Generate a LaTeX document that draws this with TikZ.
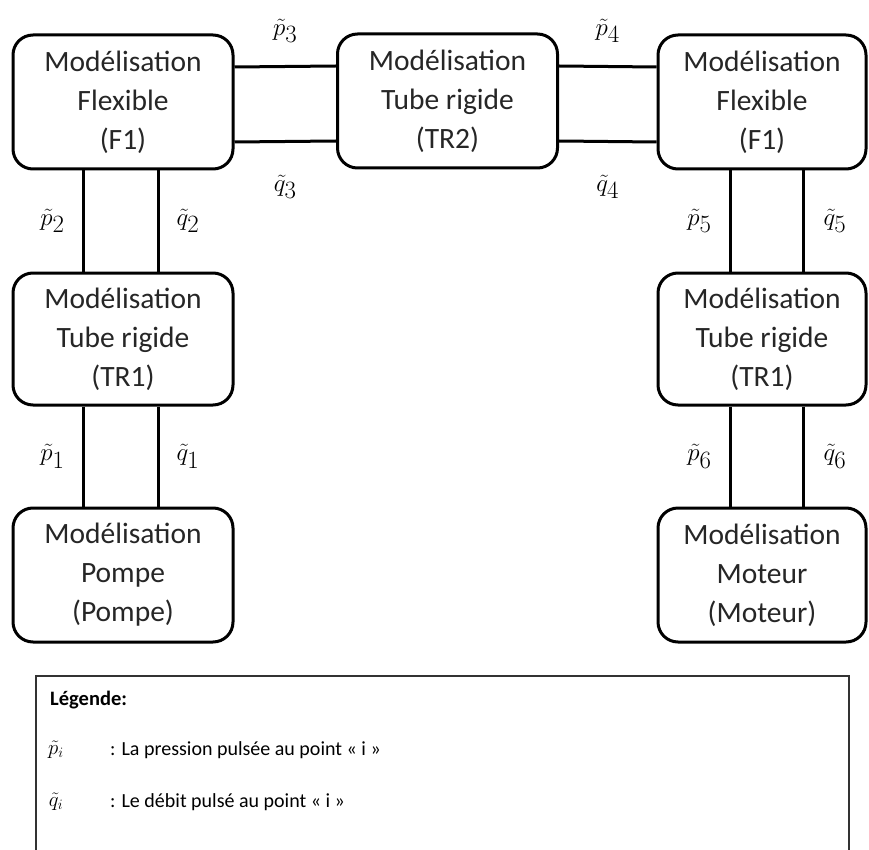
\documentclass[tikz,border=0pt]{standalone}
\usepackage{fontspec}
\setmainfont{Carlito}
\usetikzlibrary{positioning}

\begin{document}
\begin{tikzpicture}[x=1pt, y=-1pt,
  box/.style={draw, line width=3pt, rounded corners=20pt, minimum width=220pt, minimum height=134pt, align=center, inner sep=0pt, text=black!85, font=\fontsize{29.5}{39}\selectfont},
  link/.style={line width=3pt},
  lab/.style={font=\fontsize{33}{33}\selectfont, inner sep=3pt}]
\useasboundingbox (0,0) rectangle (869,850);
% blocs
\node[box] (flexA) at (123,102) {Modélisation\\Flexible\\(F1)};
\node[box] (tubeB) at (447.5,101) {Modélisation\\Tube rigide\\(TR2)};
\node[box, minimum width=208pt] (flexC) at (762,102) {Modélisation\\Flexible\\(F1)};
\node[box, minimum height=132pt] (tubeA) at (123,339) {Modélisation\\Tube rigide\\(TR1)};
\node[box, minimum width=208pt, minimum height=132pt] (tubeC) at (762,339) {Modélisation\\Tube rigide\\(TR1)};
\node[box] (pompe) at (123,575) {Modélisation\\Pompe\\(Pompe)};
\node[box, minimum width=208pt] (moteur) at (762,575) {Modélisation\\Moteur\\(Moteur)};
% liaisons horizontales
\draw[link] ([yshift=35pt]flexA.east) -- node[lab, above=19pt] {$\tilde p_3$} ([yshift=35pt]tubeB.west);
\draw[link] ([yshift=-40pt]flexA.east) -- node[lab, below=29pt] {$\tilde q_3$} ([yshift=-40pt]tubeB.west);
\draw[link] ([yshift=35pt]tubeB.east) -- node[lab, above=19pt] {$\tilde p_4$} ([yshift=35pt]flexC.west);
\draw[link] ([yshift=-40pt]tubeB.east) -- node[lab, below=29pt] {$\tilde q_4$} ([yshift=-40pt]flexC.west);
% liaisons verticales
\draw[link] ([xshift=-40pt]flexA.south) -- node[lab, left=14pt] {$\tilde p_2$} ([xshift=-40pt]tubeA.north);
\draw[link] ([xshift=35pt]flexA.south) -- node[lab, right=14pt] {$\tilde q_2$} ([xshift=35pt]tubeA.north);
\draw[link] ([xshift=-40pt]tubeA.south) -- node[lab, left=14pt] {$\tilde p_1$} ([xshift=-40pt]pompe.north);
\draw[link] ([xshift=35pt]tubeA.south) -- node[lab, right=14pt] {$\tilde q_1$} ([xshift=35pt]pompe.north);
\draw[link] ([xshift=-32pt]flexC.south) -- node[lab, left=14pt] {$\tilde p_5$} ([xshift=-32pt]tubeC.north);
\draw[link] ([xshift=41pt]flexC.south) -- node[lab, right=16pt] {$\tilde q_5$} ([xshift=41pt]tubeC.north);
\draw[link] ([xshift=-32pt]tubeC.south) -- node[lab, left=14pt] {$\tilde p_6$} ([xshift=-32pt]moteur.north);
\draw[link] ([xshift=41pt]tubeC.south) -- node[lab, right=16pt] {$\tilde q_6$} ([xshift=41pt]moteur.north);
% legende
\node[draw=black!80, line width=1.5pt, minimum width=813pt, minimum height=200pt, anchor=north west, inner sep=0pt] (legende) at (35,675) {};
\node[anchor=west, inner sep=0pt, font=\bfseries\fontsize{20.5}{24}\selectfont] (titre) at (50,700) {Légende:};
\node[inner sep=0pt, font=\fontsize{21}{24}\selectfont] (symP) at (56,750) {$\tilde p_i$};
\node[anchor=west, inner sep=0pt, font=\fontsize{20}{24}\selectfont] (defP) at (110,750) {: La pression pulsée au point « i »};
\node[inner sep=0pt, font=\fontsize{21}{24}\selectfont] (symQ) at (56,802) {$\tilde q_i$};
\node[anchor=west, inner sep=0pt, font=\fontsize{20}{24}\selectfont] (defQ) at (110,802) {: Le débit pulsé au point « i »};
\end{tikzpicture}
\end{document}
